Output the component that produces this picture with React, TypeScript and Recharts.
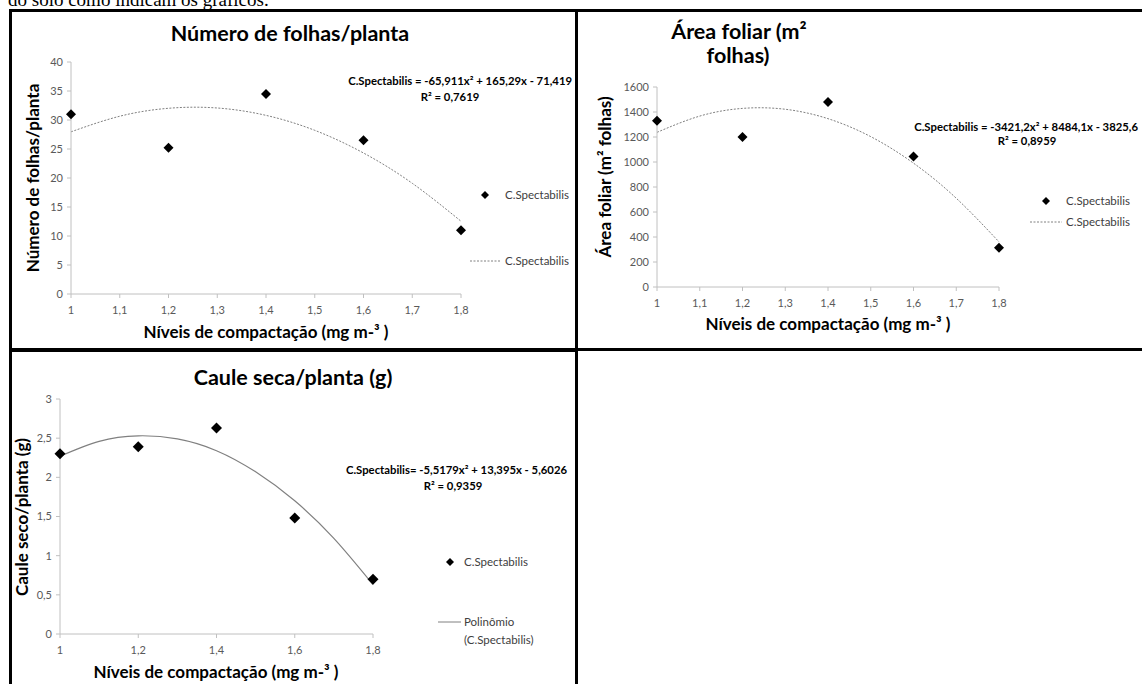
import React from 'react';
import { ComposedChart, Scatter, Line, XAxis, YAxis, Legend } from 'recharts';

// ---------- Data ----------
const levels = [1, 1.2, 1.4, 1.6, 1.8];
const trendLevels = [1, 1.1, 1.2, 1.3, 1.4, 1.5, 1.6, 1.7, 1.8];

const folhasValues = [31, 25.2, 34.5, 26.5, 11];
const folhasTrend = [27.96, 30.65, 32.02, 32.07, 30.8, 28.22, 24.31, 19.09, 12.55];
const folhasXTicks = [1, 1.1, 1.2, 1.3, 1.4, 1.5, 1.6, 1.7, 1.8];
const folhasYTicks = [0, 5, 10, 15, 20, 25, 30, 35, 40];

const areaValues = [1330, 1200, 1480, 1045, 315];
const areaTrend = [1237.3, 1367.3, 1428.8, 1421.9, 1346.6, 1202.9, 990.7, 710.1, 361.1];
const areaXTicks = [1, 1.1, 1.2, 1.3, 1.4, 1.5, 1.6, 1.7, 1.8];
const areaYTicks = [0, 200, 400, 600, 800, 1000, 1200, 1400, 1600];

const cauleValues = [2.3, 2.39, 2.63, 1.48, 0.7];
const cauleTrend = [2.27, 2.46, 2.53, 2.49, 2.34, 2.07, 1.7, 1.22, 0.63];
const cauleXTicks = [1, 1.2, 1.4, 1.6, 1.8];
const cauleYTicks = [0, 0.5, 1, 1.5, 2, 2.5, 3];

const seriesName = 'C.Spectabilis';

// ---------- Helpers ----------
const toPoints = (xs: number[], ys: number[]) => xs.map((x, i) => ({ x, y: ys[i] }));
const comma = (v: number) => String(v).replace('.', ',');

const FONT = 'Lato, "Open Sans", sans-serif';
const AXIS_COLOR = '#c0c0c0';
const TICK_COLOR = '#595959';

const diamond = (r: number) => (props: any) => {
  const { cx, cy } = props;
  if (cx == null || cy == null) return <g />;
  return (
    <polygon
      points={`${cx},${cy - r} ${cx + r},${cy} ${cx},${cy + r} ${cx - r},${cy}`}
      fill="#000"
    />
  );
};

type LegendCfg = {
  left: number;
  top: number;
  markerRow: number;
  lineRow: number;
  markerX: number;
  lineX1: number;
  lineX2: number;
  textX: number;
  dashed: boolean;
  lineLabel: string[];
};

const makeLegend = (cfg: LegendCfg) => () => (
  <svg width={140} height={70} style={{ overflow: 'visible', display: 'block' }}>
    <polygon
      points={`${cfg.markerX},${cfg.markerRow - 4} ${cfg.markerX + 4},${cfg.markerRow} ${cfg.markerX},${cfg.markerRow + 4} ${cfg.markerX - 4},${cfg.markerRow}`}
      fill="#000"
    />
    <text x={cfg.textX} y={cfg.markerRow + 4} fontSize={11.5} fill="#404040" fontFamily={FONT}>
      {seriesName}
    </text>
    <line
      x1={cfg.lineX1}
      x2={cfg.lineX2}
      y1={cfg.lineRow}
      y2={cfg.lineRow}
      stroke="#808080"
      strokeWidth={1}
      strokeDasharray={cfg.dashed ? '2 1.5' : undefined}
    />
    {cfg.lineLabel.map((t, i) => (
      <text key={i} x={cfg.textX} y={cfg.lineRow + 4 + i * 18} fontSize={11.5} fill="#404040" fontFamily={FONT}>
        {t}
      </text>
    ))}
  </svg>
);

type PanelProps = {
  left: number;
  top: number;
  width: number;
  height: number;
  margin: { top: number; right: number; bottom: number; left: number };
  yWidth: number;
  points: { x: number; y: number }[];
  trend: { x: number; y: number }[];
  xTicks: number[];
  yTicks: number[];
  yDomain: [number, number];
  dashed: boolean;
  r: number;
  legend: LegendCfg;
};

const Panel = (p: PanelProps) => (
  <div style={{ position: 'absolute', left: p.left, top: p.top }}>
    <ComposedChart width={p.width} height={p.height} margin={p.margin}>
      <XAxis
        type="number"
        dataKey="x"
        domain={[1, 1.8]}
        ticks={p.xTicks}
        tickFormatter={comma}
        height={30}
        stroke={AXIS_COLOR}
        tickSize={4}
        tickMargin={8}
        tick={{ fill: TICK_COLOR, fontSize: 11, fontFamily: FONT }}
      />
      <YAxis
        type="number"
        dataKey="y"
        domain={p.yDomain}
        ticks={p.yTicks}
        tickFormatter={comma}
        width={p.yWidth}
        stroke={AXIS_COLOR}
        tickSize={4}
        tickMargin={4}
        tick={{ fill: TICK_COLOR, fontSize: 11, fontFamily: FONT }}
      />
      <Line
        data={p.trend}
        dataKey="y"
        type="natural"
        stroke="#808080"
        strokeWidth={p.dashed ? 1 : 1.2}
        strokeDasharray={p.dashed ? '2 1.5' : undefined}
        dot={false}
        activeDot={false}
        isAnimationActive={false}
        legendType="line"
        name={seriesName}
      />
      <Scatter
        data={p.points}
        dataKey="y"
        shape={diamond(p.r)}
        isAnimationActive={false}
        name={seriesName}
      />
      <Legend
        layout="horizontal"
        verticalAlign="middle"
        align="center"
        content={makeLegend(p.legend)}
        wrapperStyle={{ left: p.legend.left, top: p.legend.top, width: 140, height: 70 }}
      />
    </ComposedChart>
  </div>
);

const T = (props: any) => <text fontFamily={FONT} {...props} />;

export default function App() {
  return (
    <div
      style={{
        position: 'fixed',
        left: 0,
        top: 0,
        width: 1142,
        height: 684,
        overflow: 'hidden',
        background: '#fff',
      }}
    >
      {/* Chart 1 */}
      <Panel
        left={0}
        top={0}
        width={580}
        height={348}
        margin={{ top: 62, right: 119, bottom: 24, left: 31 }}
        yWidth={40}
        points={toPoints(levels, folhasValues)}
        trend={toPoints(trendLevels, folhasTrend)}
        xTicks={folhasXTicks}
        yTicks={folhasYTicks}
        yDomain={[0, 40]}
        dashed
        r={5}
        legend={{ left: 460, top: 180, markerRow: 15, lineRow: 81, markerX: 25, lineX1: 10, lineX2: 41, textX: 45, dashed: true, lineLabel: [seriesName] }}
      />
      {/* Chart 2 */}
      <Panel
        left={578}
        top={0}
        width={564}
        height={348}
        margin={{ top: 87, right: 143, bottom: 31, left: 39 }}
        yWidth={40}
        points={toPoints(levels, areaValues)}
        trend={toPoints(trendLevels, areaTrend)}
        xTicks={areaXTicks}
        yTicks={areaYTicks}
        yDomain={[0, 1600]}
        dashed
        r={5}
        legend={{ left: 442, top: 186, markerRow: 15, lineRow: 36, markerX: 26, lineX1: 10, lineX2: 42, textX: 46, dashed: true, lineLabel: [seriesName] }}
      />
      {/* Chart 3 */}
      <Panel
        left={0}
        top={350}
        width={578}
        height={334}
        margin={{ top: 49, right: 205, bottom: 20, left: 25 }}
        yWidth={35}
        points={toPoints(levels, cauleValues)}
        trend={toPoints(trendLevels, cauleTrend)}
        xTicks={cauleXTicks}
        yTicks={cauleYTicks}
        yDomain={[0, 3]}
        dashed={false}
        r={5.5}
        legend={{ left: 428, top: 197, markerRow: 15, lineRow: 75, markerX: 22, lineX1: 10, lineX2: 33, textX: 36, dashed: false, lineLabel: ['Polinômio', '(C.Spectabilis)'] }}
      />

      {/* Overlay: texts and frame */}
      <svg
        width={1142}
        height={684}
        style={{ position: 'absolute', left: 0, top: 0, pointerEvents: 'none' }}
      >
        <text x={8} y={6} fontFamily='"Liberation Serif", "Times New Roman", serif' fontSize={19} fill="#000">
          do solo como indicam os gráficos.
        </text>

        {/* frame */}
        <rect x={9} y={9} width={1140} height={3} fill="#000" />
        <rect x={9} y={9} width={3} height={680} fill="#000" />
        <rect x={575} y={9} width={3} height={680} fill="#000" />
        <rect x={9} y={348} width={569} height={4} fill="#000" />
        <rect x={578} y={348} width={570} height={3} fill="#000" />

        {/* Chart 1 texts */}
        <T x={290} y={41} fontSize={21.5} fontWeight={700} textAnchor="middle" fill="#000">
          Número de folhas/planta
        </T>
        <T x={572} y={85} fontSize={11.3} fontWeight={700} textAnchor="end" fill="#000">
          C.Spectabilis = -65,911x² + 165,29x - 71,419
        </T>
        <T x={450} y={101} fontSize={11.3} fontWeight={700} textAnchor="middle" fill="#000">
          R² = 0,7619
        </T>
        <T x={266} y={338} fontSize={17} fontWeight={700} textAnchor="middle" fill="#000">
          Níveis de compactação (mg m-³ )
        </T>
        <T transform="translate(39,178) rotate(-90)" fontSize={17} fontWeight={700} textAnchor="middle" fill="#000">
          Número de folhas/planta
        </T>

        {/* Chart 2 texts */}
        <T x={739} y={39} fontSize={21.5} fontWeight={700} textAnchor="middle" fill="#000">
          Área foliar (m²
        </T>
        <T x={738} y={63} fontSize={21.5} fontWeight={700} textAnchor="middle" fill="#000">
          folhas)
        </T>
        <T x={1138} y={131} fontSize={11.3} fontWeight={700} textAnchor="end" fill="#000">
          C.Spectabilis = -3421,2x² + 8484,1x - 3825,6
        </T>
        <T x={1027} y={145} fontSize={11.3} fontWeight={700} textAnchor="middle" fill="#000">
          R² = 0,8959
        </T>
        <T x={828} y={330} fontSize={17} fontWeight={700} textAnchor="middle" fill="#000">
          Níveis de compactação (mg m-³ )
        </T>
        <T transform="translate(611,177) rotate(-90)" fontSize={17} fontWeight={700} textAnchor="middle" fill="#000">
          Área foliar (m² folhas)
        </T>

        {/* Chart 3 texts */}
        <T x={293} y={385} fontSize={21.5} fontWeight={700} textAnchor="middle" fill="#000">
          Caule seca/planta (g)
        </T>
        <T x={567} y={474} fontSize={11.3} fontWeight={700} textAnchor="end" fill="#000">
          C.Spectabilis= -5,5179x² + 13,395x - 5,6026
        </T>
        <T x={453} y={490} fontSize={11.3} fontWeight={700} textAnchor="middle" fill="#000">
          R² = 0,9359
        </T>
        <T x={216} y={678} fontSize={17} fontWeight={700} textAnchor="middle" fill="#000">
          Níveis de compactação (mg m-³ )
        </T>
        <T transform="translate(28,517) rotate(-90)" fontSize={17} fontWeight={700} textAnchor="middle" fill="#000">
          Caule seco/planta (g)
        </T>
      </svg>
    </div>
  );
}
